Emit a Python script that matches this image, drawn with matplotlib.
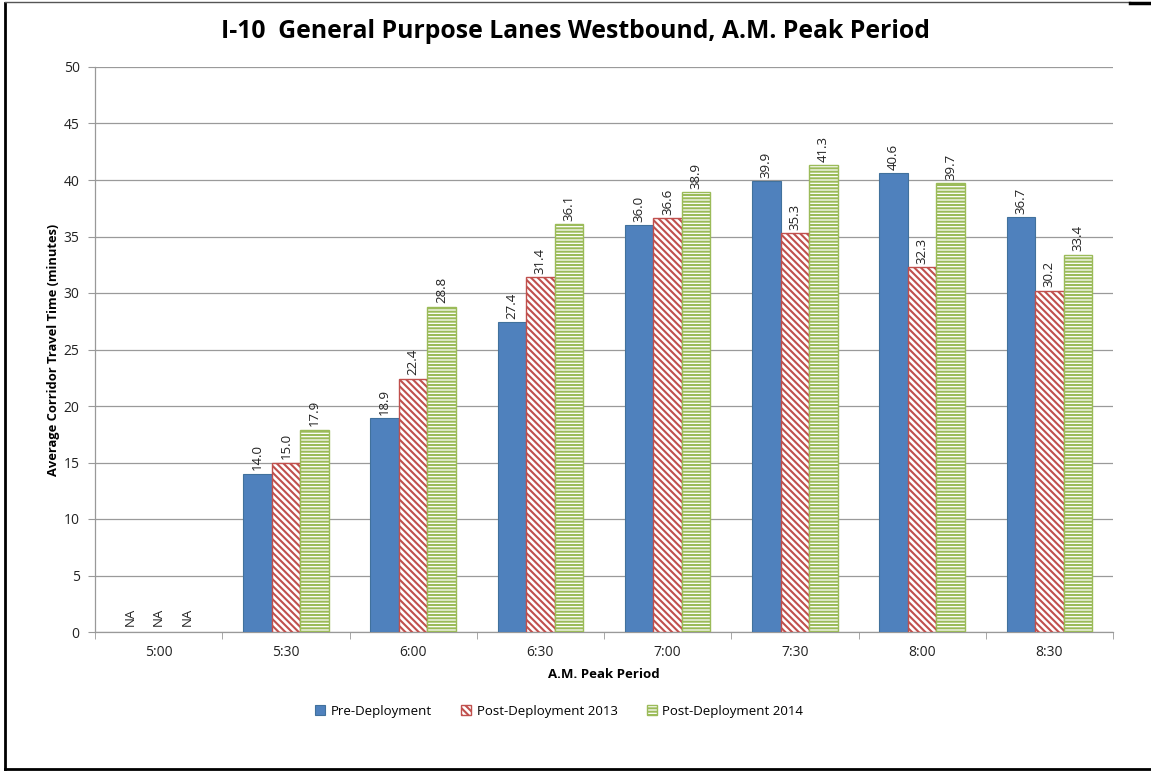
import matplotlib
matplotlib.use("Agg")
import matplotlib.pyplot as plt
import numpy as np
from matplotlib.patches import Patch
from matplotlib.lines import Line2D

categories = ["5:00", "5:30", "6:00", "6:30", "7:00", "7:30", "8:00", "8:30"]
pre_deployment = [None, 14.0, 18.9, 27.4, 36.0, 39.9, 40.6, 36.7]
post_2013 = [None, 15.0, 22.4, 31.4, 36.6, 35.3, 32.3, 30.2]
post_2014 = [None, 17.9, 28.8, 36.1, 38.9, 41.3, 39.7, 33.4]
series_names = ["Pre-Deployment", "Post-Deployment 2013", "Post-Deployment 2014"]
title = "I-10  General Purpose Lanes Westbound, A.M. Peak Period"
y_label = "Average Corridor Travel Time (minutes)"
x_label = "A.M. Peak Period"
yticks = [0, 5, 10, 15, 20, 25, 30, 35, 40, 45, 50]

plt.rcParams['font.family'] = ['Open Sans', 'DejaVu Sans']
plt.rcParams['hatch.linewidth'] = 1.5

W, H = 1151, 771
fig = plt.figure(figsize=(W / 100, H / 100), dpi=100)
ax = fig.add_axes([95 / W, 1 - 632 / H, (1113 - 95) / W, (632 - 67) / H])

x = np.arange(len(categories))
bw = 0.224
offsets = [-bw, 0, bw]
styles = [
    dict(facecolor="#4F81BD", edgecolor="#41719C", hatch=None, lw=0.8),
    dict(facecolor="white", edgecolor="#C0504D", hatch="\\\\\\\\\\", lw=1.0),
    dict(facecolor="white", edgecolor="#9BBB59", hatch="-----", lw=1.0),
]
all_series = [pre_deployment, post_2013, post_2014]
for vals, off, st in zip(all_series, offsets, styles):
    for xi, v in zip(x, vals):
        if v is None:
            ax.text(xi + off, 0.5, "NA", rotation=90, ha="center", va="bottom",
                    fontsize=9.5, color="#222222")
            continue
        ax.bar(xi + off, v, width=bw, facecolor=st["facecolor"], edgecolor=st["edgecolor"],
               hatch=st["hatch"], linewidth=st["lw"], zorder=3)
        ax.text(xi + off, v + 0.3, f"{v:.1f}", rotation=90, ha="center", va="bottom",
                fontsize=9.5, color="#222222")

ax.set_xlim(-0.5, len(categories) - 0.5)
ax.set_ylim(0, 50)
ax.set_yticks(yticks)
ax.set_yticklabels([str(t) for t in yticks], fontsize=10, color="#222222")
ax.set_xticks(x)
ax.set_xticklabels(categories, fontsize=10, color="#222222")
ax.set_xticks(np.arange(len(categories) + 1) - 0.5, minor=True)
ax.tick_params(axis="x", which="major", length=0, pad=9)
ax.tick_params(axis="x", which="minor", length=5, color="#999999", direction="out")
ax.tick_params(axis="y", length=5, color="#999999", pad=6)
ax.yaxis.grid(True, color="#9A9A9A", linewidth=0.9, zorder=0)
ax.set_axisbelow(True)
for s in ["top", "right"]:
    ax.spines[s].set_visible(False)
for s in ["left", "bottom"]:
    ax.spines[s].set_color("#999999")
    ax.spines[s].set_linewidth(0.9)

ax.set_ylabel(y_label, fontsize=9.3, fontweight="bold", labelpad=3)
ax.set_xlabel(x_label, fontsize=9.5, fontweight="bold", labelpad=6)
fig.text(575 / W, 1 - 31 / H, title, ha="center", va="center", fontsize=17.8, fontweight="bold")

handles = [Patch(facecolor=st["facecolor"], edgecolor=st["edgecolor"], hatch=st["hatch"],
                 linewidth=st["lw"]) for st in styles]
fig.legend(handles, series_names, loc="center", bbox_to_anchor=(559 / W, 1 - 711 / H),
           ncol=3, frameon=False, fontsize=9.5, handlelength=0.8, handleheight=0.8,
           columnspacing=2.2, handletextpad=0.4)

# outer frame
fig.add_artist(Line2D([5 / W, 5 / W], [1 - 3 / H, 1 - 769 / H], color="black", lw=2, transform=fig.transFigure))
fig.add_artist(Line2D([5 / W, 1151 / W], [1 - 769 / H, 1 - 769 / H], color="black", lw=2, transform=fig.transFigure))
fig.add_artist(Line2D([5 / W, 1130 / W], [1 - 2 / H, 1 - 2 / H], color="#555555", lw=1, transform=fig.transFigure))
fig.add_artist(Line2D([1130 / W, 1151 / W], [1 - 3 / H, 1 - 3 / H], color="black", lw=2.5, transform=fig.transFigure))

fig.savefig("out.png", dpi=100, facecolor="white")
